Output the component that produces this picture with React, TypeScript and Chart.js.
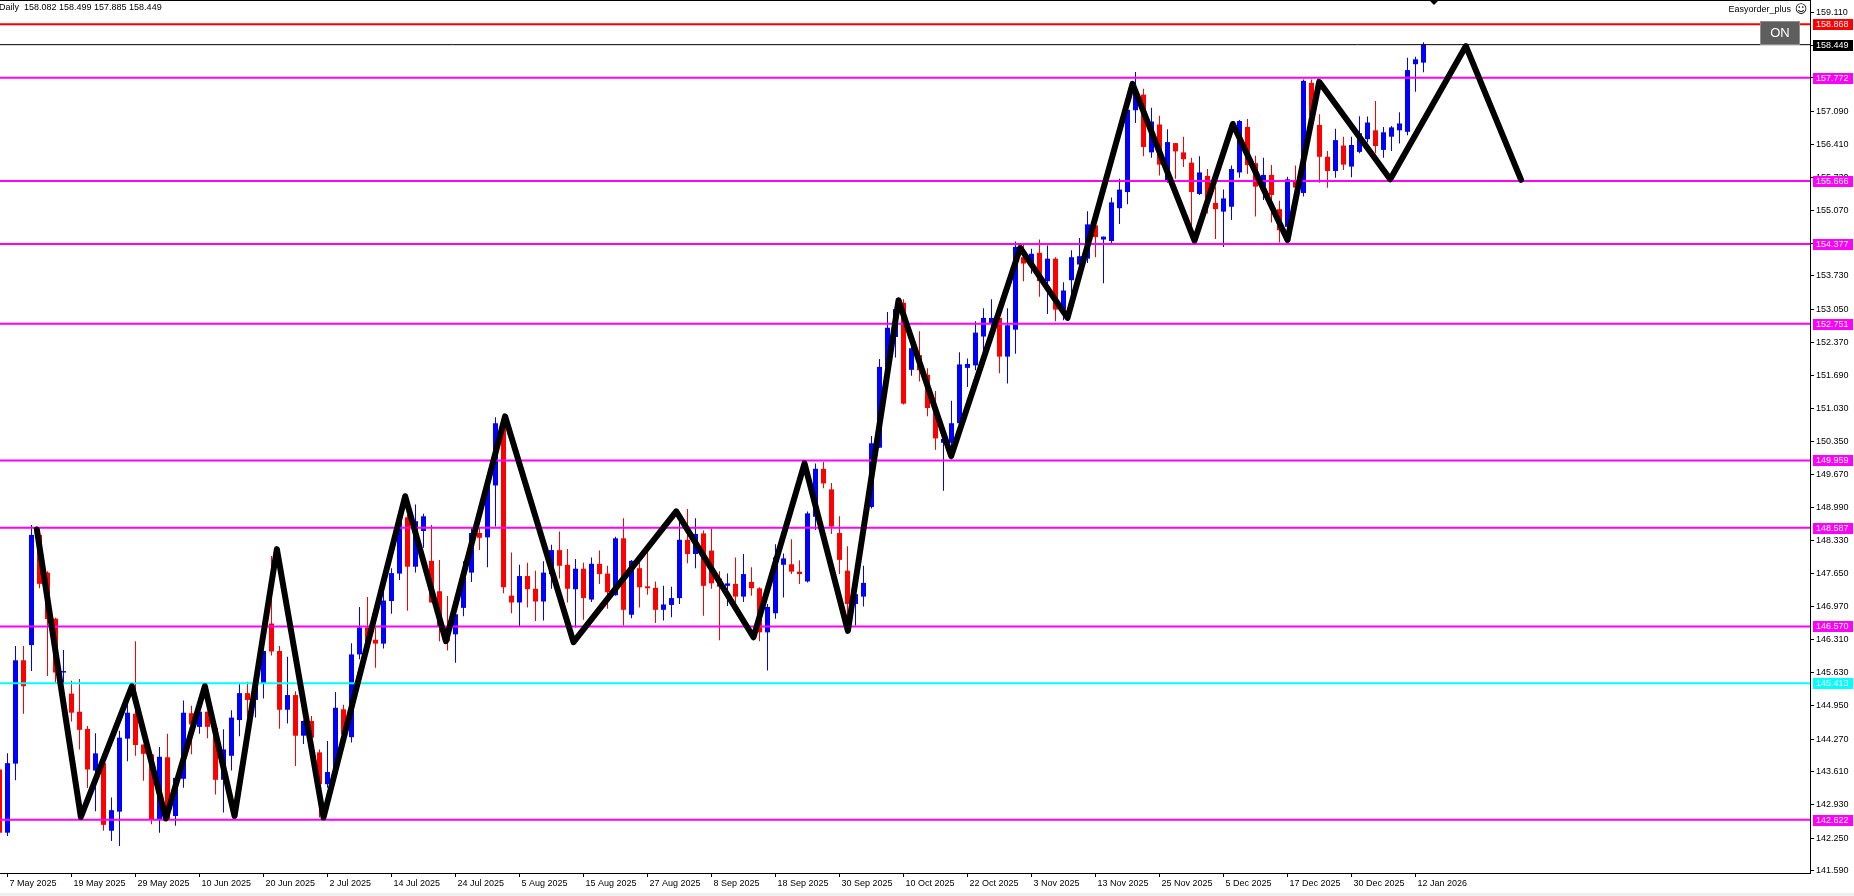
import React, { useEffect, useRef } from "react";
import { Chart, registerables } from "chart.js";

Chart.register(...registerables);

// ---- Daily candles (USDJPY), index 0 = 6 May 2025 ... index 178 = 13 Jan 2026 ----
const opens = [
  143.65, 142.36, 143.77, 145.88, 146.19, 148.44, 147.67, 146.73, 145.63, 145.2,
  144.83, 144.48, 143.63, 143.78, 142.4, 142.79, 144.28, 144.79, 144.16, 143.96,
  142.63, 143.9, 142.7, 143.46, 144.8, 144.52, 144.83, 144.5, 143.44, 143.93,
  144.66, 145.21, 145.07, 145.41, 146.63, 146.07, 144.87, 145.17, 144.34, 144.64,
  144.0, 143.35, 143.59, 144.88, 144.31, 146.0, 146.55, 146.3, 146.22, 147.09,
  147.65, 148.8, 147.79, 148.52, 147.91, 147.29, 146.58, 146.41, 146.95, 147.67,
  148.48, 148.39, 149.45, 150.7, 147.2, 147.06, 147.6, 147.34, 147.08, 147.64,
  148.13, 147.83, 147.33, 147.75, 147.12, 147.85, 147.65, 147.21, 148.37, 146.81,
  147.76, 147.39, 147.36, 146.91, 147.01, 147.15, 148.34, 148.05, 148.47, 148.12,
  147.55, 147.4, 147.44, 147.18, 147.48, 147.35, 146.45, 146.84, 147.83, 147.84,
  147.69, 147.49, 148.81, 149.79, 149.37, 148.48, 147.71, 147.03, 147.18, 149.01,
  150.22, 151.86, 152.48, 153.18, 151.81, 152.11, 151.71, 151.02, 150.32, 150.32,
  150.72, 151.85, 151.9, 152.49, 152.75, 152.87, 152.08, 152.63, 154.11, 153.98,
  154.2, 153.62, 154.08, 153.04, 153.64, 153.96, 154.08, 154.76, 154.47, 154.44,
  155.11, 155.44, 157.11, 157.43, 156.25, 156.82, 155.66, 156.44, 156.25, 156.04,
  155.4, 155.77, 155.22, 155.04, 155.14, 155.84, 156.77, 156.03, 155.55, 155.79,
  155.09, 154.73, 155.65, 155.42, 157.67, 156.81, 156.16, 155.87, 156.39, 155.96,
  156.26, 156.52, 156.7, 156.3, 156.57, 156.7, 156.67, 158.05, 158.082,
];
const highs = [
  143.72, 143.98, 146.17, 146.17, 148.64, 148.5, 147.7, 146.75, 146.09, 145.46,
  145.5, 144.54, 144.39, 143.89, 143.08, 144.44, 145.06, 146.27, 144.16, 143.96,
  144.11, 144.38, 143.48, 145.06, 144.95, 144.83, 144.83, 144.5, 144.47, 144.86,
  145.39, 145.44, 145.5, 146.07, 148.01, 146.17, 145.95, 145.25, 144.65, 144.74,
  144.06, 144.23, 145.23, 144.97, 146.23, 146.97, 147.17, 146.55, 147.4, 147.76,
  148.72, 148.85, 149.06, 148.87, 148.64, 147.93, 147.19, 146.9, 147.9, 148.59,
  148.59, 149.5, 150.84, 150.9, 148.08, 147.83, 147.87, 147.71, 147.9, 148.24,
  148.51, 148.15, 147.95, 147.87, 147.98, 148.12, 147.81, 148.4, 148.78, 147.93,
  147.88, 148.17, 147.49, 147.4, 147.38, 148.73, 148.97, 148.78, 148.53, 148.57,
  147.7, 147.65, 147.98, 148.05, 147.78, 147.37, 147.03, 148.25, 148.06, 148.35,
  147.92, 148.92, 149.9, 149.93, 149.5, 148.82, 148.21, 147.3, 147.81, 150.46,
  152.03, 152.99, 153.08, 153.25, 152.35, 152.6, 151.84, 151.38, 150.44, 151.18,
  152.17, 152.04, 152.8, 153.07, 153.25, 152.9, 153.07, 154.43, 154.4, 154.28,
  154.47, 154.35, 154.11, 153.6, 154.25, 154.5, 155.05, 154.78, 154.53, 155.33,
  155.71, 157.14, 157.89, 157.55, 157.16, 157.0, 156.72, 156.44, 156.57, 156.14,
  156.17, 155.91, 155.55, 155.49, 155.98, 156.91, 156.93, 156.18, 156.14, 155.99,
  155.26, 155.75, 155.98, 157.74, 157.74, 157.03, 156.28, 156.73, 156.57, 156.57,
  156.99, 156.98, 157.3, 156.77, 156.79, 157.07, 158.18, 158.2, 158.499,
];
const lows = [
  142.3, 142.29, 143.43, 144.79, 145.66, 147.35, 145.56, 145.42, 145.42, 144.63,
  144.06, 143.27, 142.8, 142.4, 142.19, 142.09, 143.82, 143.93, 143.42, 142.53,
  142.36, 142.6, 142.5, 143.28, 143.96, 144.38, 144.29, 143.14, 142.77, 143.63,
  144.33, 144.72, 144.71, 145.1, 145.98, 144.48, 144.59, 143.72, 144.17, 143.83,
  142.67, 143.28, 143.48, 144.27, 144.2, 145.9, 146.14, 145.73, 146.12, 146.83,
  147.52, 146.89, 147.67, 148.18, 147.06, 146.27, 146.08, 145.83, 146.78, 147.48,
  148.13, 147.78, 148.61, 147.25, 146.84, 146.57, 146.96, 146.68, 146.69, 147.34,
  147.55, 147.06, 146.55, 146.71, 147.07, 147.44, 146.93, 147.2, 146.59, 146.74,
  146.96, 147.22, 146.64, 146.69, 146.76, 147.03, 147.86, 147.76, 146.79, 147.34,
  146.29, 146.99, 147.03, 147.07, 147.2, 146.27, 145.67, 146.73, 147.16, 147.64,
  147.44, 147.47, 148.54, 149.39, 148.46, 147.64, 146.42, 146.59, 146.98, 148.98,
  150.22, 151.86, 152.06, 151.1, 151.69, 151.57, 150.86, 150.18, 149.34, 150.16,
  150.6, 151.46, 151.8, 152.0, 152.68, 151.74, 151.53, 152.14, 153.62, 153.77,
  153.3, 152.95, 152.8, 152.82, 153.36, 153.87, 153.99, 154.11, 153.58, 154.4,
  154.79, 155.19, 156.85, 156.17, 156.14, 155.78, 155.63, 155.71, 155.95, 154.72,
  155.38, 155.0, 154.48, 154.32, 154.87, 155.73, 155.81, 154.94, 155.28, 154.82,
  154.41, 154.4, 155.45, 155.35, 156.9, 155.63, 155.53, 155.73, 155.89, 155.74,
  156.23, 156.45, 156.23, 156.14, 156.28, 156.43, 156.6, 157.49, 157.885,
];
const closes = [
  142.36, 143.78, 145.88, 145.35, 148.44, 147.44, 146.72, 145.63, 145.66, 144.81,
  144.46, 143.65, 143.98, 142.52, 142.82, 144.3, 144.81, 144.15, 143.97, 142.63,
  143.91, 142.63, 143.48, 144.81, 144.57, 144.83, 144.52, 143.44, 144.06, 144.71,
  145.21, 145.07, 145.42, 146.07, 146.06, 144.87, 145.17, 144.34, 144.64, 144.3,
  143.35, 143.6, 144.91, 144.37, 146.0, 146.55, 146.2, 146.22, 147.1, 147.66,
  148.72, 147.79, 148.72, 148.82, 147.06, 146.58, 146.27, 146.82, 147.67, 148.48,
  148.38, 149.48, 150.72, 147.37, 147.06, 147.6, 147.33, 147.08, 147.67, 148.13,
  147.81, 147.34, 147.75, 147.15, 147.85, 147.64, 147.27, 148.37, 146.91, 147.91,
  147.37, 147.35, 146.91, 147.02, 147.15, 148.34, 148.05, 148.46, 147.4, 147.45,
  147.38, 147.45, 147.18, 147.64, 147.35, 146.45, 146.97, 147.98, 147.96, 147.69,
  147.64, 148.88, 149.79, 149.49, 148.61, 147.93, 147.03, 147.23, 147.46, 150.31,
  151.87, 152.67, 153.05, 151.12, 152.25, 151.8, 151.03, 150.41, 150.4, 150.72,
  151.92, 151.93, 152.57, 152.87, 152.87, 152.08, 152.72, 154.32, 153.98, 154.18,
  153.62, 154.08, 153.04, 153.43, 154.11, 154.13, 154.78, 154.52, 154.53, 155.23,
  155.49, 157.12, 157.48, 156.36, 156.88, 156.0, 156.46, 156.27, 156.11, 155.44,
  155.84, 155.31, 155.09, 155.31, 155.91, 156.89, 155.99, 155.55, 155.79, 155.38,
  154.66, 155.7, 155.53, 157.71, 157.0, 156.16, 155.87, 156.5, 156.0, 156.4,
  156.64, 156.86, 156.38, 156.66, 156.76, 156.84, 157.93, 158.15, 158.449,
];

// ---- Date axis labels (bar index where each label sits) ----
const dateTickIndex = [1, 9, 17, 25, 33, 41, 49, 57, 65, 73, 81, 89, 97, 105, 113, 121, 129, 137, 145, 153, 161, 169, 177];
const dateTickLabels = [
  "7 May 2025", "19 May 2025", "29 May 2025", "10 Jun 2025", "20 Jun 2025", "2 Jul 2025",
  "14 Jul 2025", "24 Jul 2025", "5 Aug 2025", "15 Aug 2025", "27 Aug 2025", "8 Sep 2025",
  "18 Sep 2025", "30 Sep 2025", "10 Oct 2025", "22 Oct 2025", "3 Nov 2025", "13 Nov 2025",
  "25 Nov 2025", "5 Dec 2025", "17 Dec 2025", "30 Dec 2025", "12 Jan 2026",
];

// ---- Price axis ticks ----
const priceTicks = [
  159.11, 158.43, 157.77, 157.09, 156.41, 155.73, 155.07, 154.39, 153.73, 153.05,
  152.37, 151.69, 151.03, 150.35, 149.67, 148.99, 148.33, 147.65, 146.97, 146.31,
  145.63, 144.95, 144.27, 143.61, 142.93, 142.25, 141.59,
];

// ---- Horizontal levels ----
const levelValues = [158.868, 158.449, 157.772, 155.666, 154.377, 152.751, 149.959, 148.587, 146.57, 145.413, 142.622];
const levelColors = ["#FF0000", "#000000", "#FF00FF", "#FF00FF", "#FF00FF", "#FF00FF", "#FF00FF", "#FF00FF", "#FF00FF", "#00FFFF", "#FF00FF"];
const levelWidths = [2, 1, 2, 2, 2, 2, 2, 2, 2, 2, 2];

// ---- Hand-drawn zigzag (bar index position, price) ----
const zigX = [4.67, 10.17, 16.55, 20.8, 25.67, 29.38, 34.67, 40.5, 50.71, 55.8, 63.2, 71.75, 84.59, 94.25, 100.63, 106.05, 112.38, 118.96, 127.59, 133.5, 141.63, 149.38, 154.17, 161.0, 164.96, 173.84, 183.3, 190.2];
const zigY = [148.55, 142.68, 145.35, 142.65, 145.35, 142.7, 148.15, 142.67, 149.23, 146.27, 150.86, 146.25, 148.92, 146.35, 149.9, 146.48, 153.23, 150.05, 154.3, 152.87, 157.65, 154.45, 156.83, 154.46, 157.69, 155.7, 158.42, 155.69];

const headerText = "Daily  158.082 158.499 157.885 158.449";
const indicatorName = "Easyorder_plus";

const X_MIN = 0.0625;
const X_MAX = 226.3125;
const Y_MIN = 141.537;
const Y_MAX = 159.361;
const FONT = '9px "Liberation Sans"';

const overlayPlugin = {
  id: "mt4overlay",
  afterDraw(chart: any) {
    const { ctx, chartArea, scales } = chart;
    const ys = scales.y;
    const xs = scales.x;
    ctx.save();
    // top border
    ctx.fillStyle = "#000";
    ctx.fillRect(0, 0, chartArea.right, 1);
    // level price labels
    ctx.font = FONT;
    ctx.textBaseline = "middle";
    ctx.textAlign = "left";
    levelValues.forEach((v, i) => {
      const py = Math.round(ys.getPixelForValue(v));
      ctx.fillStyle = levelColors[i];
      ctx.fillRect(chartArea.right + 3, py - 5, 40, 11);
      ctx.fillStyle = "#FFFFFF";
      ctx.fillText(v.toFixed(3), chartArea.right + 6, py + 0.5);
    });
    // header
    ctx.fillStyle = "#000";
    ctx.fillText(headerText, -1, 8);
    // indicator name + smiley
    ctx.textAlign = "right";
    ctx.fillText(indicatorName, 1791, 10);
    ctx.font = '12px "DejaVu Sans"';
    ctx.textAlign = "center";
    ctx.fillText("\u263A", 1801, 10);
    // ON button
    ctx.fillStyle = "#5E5E5E";
    ctx.fillRect(1760, 21, 40, 24);
    ctx.strokeStyle = "#8E8E8E";
    ctx.lineWidth = 1;
    ctx.strokeRect(1760.5, 21.5, 39, 23);
    ctx.fillStyle = "#FFFFFF";
    ctx.font = '13px "Liberation Sans"';
    ctx.textAlign = "center";
    ctx.fillText("ON", 1780, 33.5);
    // chart shift marker
    const sx = Math.round(xs.getPixelForValue(opens.length + 0.3));
    ctx.fillStyle = "#000";
    ctx.beginPath();
    ctx.moveTo(sx - 5, 0);
    ctx.lineTo(sx + 5, 0);
    ctx.lineTo(sx, 5);
    ctx.closePath();
    ctx.fill();
    // bottom strip
    ctx.fillStyle = "#F0F0F0";
    ctx.fillRect(0, 893, chart.width, 3);
    ctx.restore();
  },
};

export default function App() {
  const ref = useRef<HTMLCanvasElement>(null);
  useEffect(() => {
    document.body.style.margin = "0";
    const canvas = ref.current!;
    const colors = opens.map((o, i) => (closes[i] >= o ? "#0000FF" : "#FF0000"));
    const bodies = opens.map((o, i) => ({ x: i, y: [o, closes[i]] }));
    const wicks = opens.map((_, i) => ({ x: i, y: [lows[i], highs[i]] }));
    const zig = zigX.map((x, i) => ({ x, y: zigY[i] }));
    const levelSets = levelValues.map((v, i) => ({
      type: "line" as const,
      data: [{ x: X_MIN, y: v }, { x: X_MAX, y: v }],
      borderColor: levelColors[i],
      borderWidth: levelWidths[i],
      pointRadius: 0,
      clip: 0,
      order: 1,
    }));
    const chart = new Chart(canvas, {
      type: "bar",
      data: {
        datasets: [
          {
            type: "line",
            data: zig,
            borderColor: "#000000",
            borderWidth: 6,
            borderJoinStyle: "round",
            borderCapStyle: "round",
            pointRadius: 0,
            tension: 0,
            order: 0,
          } as any,
          ...(levelSets as any[]),
          {
            type: "bar",
            data: bodies,
            backgroundColor: colors,
            barThickness: 5,
            grouped: false,
            inflateAmount: 0,
            minBarLength: 1,
            borderWidth: 0,
            order: 2,
          } as any,
          {
            type: "bar",
            data: wicks,
            backgroundColor: colors,
            barThickness: 1,
            grouped: false,
            inflateAmount: 0,
            borderWidth: 0,
            order: 3,
          } as any,
        ],
      },
      options: {
        responsive: false,
        devicePixelRatio: 1,
        animation: false,
        events: [],
        layout: { padding: 0 },
        plugins: { legend: { display: false }, tooltip: { enabled: false } },
        scales: {
          x: {
            type: "linear",
            min: X_MIN,
            max: X_MAX,
            offset: false,
            grid: { display: true, offset: false, drawOnChartArea: false, drawTicks: true, tickLength: 4, color: "#000" },
            border: { display: true, color: "#000", width: 1 },
            afterBuildTicks: (s: any) => {
              s.ticks = dateTickIndex.map((v) => ({ value: v }));
            },
            afterFit: (s: any) => {
              s.height = 23;
              s.paddingLeft = 0;
              s.paddingRight = 0;
            },
            ticks: {
              autoSkip: false,
              maxRotation: 0,
              minRotation: 0,
              align: "start",
              labelOffset: 2,
              padding: 1,
              color: "#000",
              font: { family: "Liberation Sans", size: 9 },
              callback: (_v: any, i: number) => dateTickLabels[i],
            },
          },
          y: {
            type: "linear",
            position: "right",
            min: Y_MIN,
            max: Y_MAX,
            beginAtZero: false,
            grid: { display: true, drawOnChartArea: false, drawTicks: true, tickLength: 4, color: "#000" },
            border: { display: true, color: "#000", width: 1 },
            afterBuildTicks: (s: any) => {
              s.ticks = priceTicks.map((v) => ({ value: v }));
            },
            afterFit: (s: any) => {
              s.width = 44;
              s.paddingTop = 0;
              s.paddingBottom = 0;
            },
            ticks: {
              autoSkip: false,
              padding: 2,
              color: "#000",
              font: { family: "Liberation Sans", size: 9 },
              callback: (v: any) => Number(v).toFixed(3),
            },
          },
        },
      } as any,
      plugins: [overlayPlugin],
    });
    return () => chart.destroy();
  }, []);
  return (
    <div style={{ position: "absolute", left: 0, top: 0, width: 1854, height: 896, background: "#FFFFFF" }}>
      <canvas ref={ref} width={1854} height={896} style={{ display: "block", width: 1854, height: 896 }} />
    </div>
  );
}
